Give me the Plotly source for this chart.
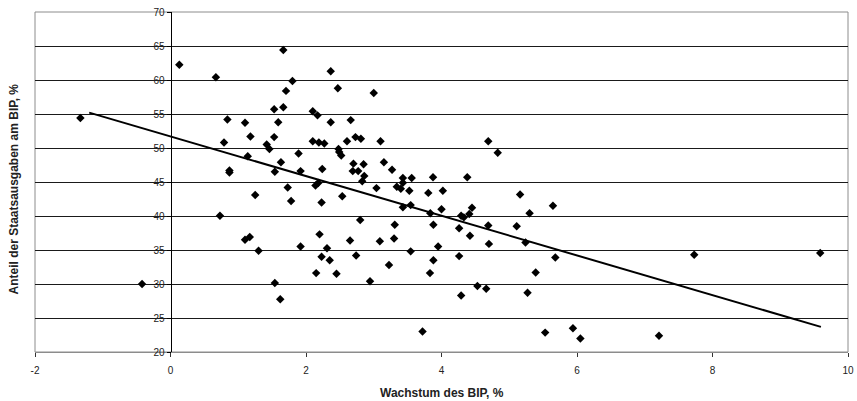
import plotly.graph_objects as go

# Growth of GDP (%) and share of government spending in GDP (%)
growth = [
    -1.33, 0.13, 0.67, 0.84, 1.10, 1.18, 0.79, 1.14, 0.87, 0.87,
    1.25, 0.73, 1.10, 1.17, 1.30, -0.42, 1.665, 1.80, 1.705, 1.53,
    1.665, 1.59, 1.53, 1.42, 1.46, 1.89, 1.63, 1.54, 1.92, 2.365,
    2.47, 3.00, 2.10, 2.17, 2.365, 2.66, 2.10, 2.19, 2.27, 2.605,
    2.73, 2.81, 3.10, 2.48, 2.49, 2.52, 2.24, 2.70, 2.69, 2.77,
    2.85, 2.86, 3.15, 3.27, 3.43, 3.56, 3.875, 1.73, 1.78, 2.14,
    2.18, 2.23, 2.535, 2.83, 3.04, 3.43, 3.34, 3.40, 3.525, 3.805,
    4.02, 3.43, 3.545, 3.835, 4.00, 2.80, 3.31, 3.88, 2.20, 2.65,
    3.09, 3.30, 1.92, 2.31, 2.23, 2.35, 2.74, 3.545, 3.95, 3.88,
    3.225, 3.83, 2.15, 2.45, 2.945, 1.54, 1.62, 3.72, 4.69, 4.83,
    4.38, 5.16, 5.645, 5.30, 4.29, 4.33, 4.41, 4.45, 4.26, 4.69,
    5.11, 4.42, 4.70, 5.24, 4.26, 5.68, 5.39, 4.53, 4.66, 4.29,
    5.27, 5.53, 5.94, 6.05, 7.73, 9.59, 7.21,
]
spending = [
    54.4, 62.25, 60.4, 54.2, 53.7, 51.7, 50.8, 48.8, 46.7, 46.4,
    43.1, 40.05, 36.5, 36.9, 34.9, 30.0, 64.4, 59.85, 58.4, 55.7,
    56.0, 53.8, 51.6, 50.5, 49.85, 49.2, 47.9, 46.5, 46.6, 61.3,
    58.8, 58.1, 55.4, 54.8, 53.8, 54.1, 51.0, 50.8, 50.65, 51.0,
    51.6, 51.35, 51.0, 49.85, 49.4, 48.9, 46.9, 47.7, 46.6, 46.6,
    47.6, 45.9, 47.9, 46.8, 45.6, 45.6, 45.7, 44.2, 42.2, 44.5,
    44.85, 42.0, 42.9, 45.1, 44.1, 44.9, 44.3, 44.0, 43.7, 43.4,
    43.7, 41.3, 41.6, 40.4, 41.0, 39.4, 38.7, 38.7, 37.3, 36.4,
    36.3, 36.7, 35.5, 35.25, 34.0, 33.5, 34.2, 34.8, 35.5, 33.5,
    32.8, 31.6, 31.6, 31.5, 30.4, 30.15, 27.75, 23.0, 51.0, 49.3,
    45.7, 43.15, 41.5, 40.4, 40.05, 39.8, 40.3, 41.2, 38.2, 38.6,
    38.5, 37.1, 35.9, 36.1, 34.1, 33.9, 31.7, 29.7, 29.3, 28.3,
    28.7, 22.85, 23.5, 22.0, 34.3, 34.56, 22.4,
]

# Linear trend line end points
trend_x = [-1.2, 9.6]
trend_y = [55.2, 23.7]

x_ticks = [-2, 0, 2, 4, 6, 8, 10]
y_ticks = [20, 25, 30, 35, 40, 45, 50, 55, 60, 65, 70]

FONT = "Liberation Sans, Arial, sans-serif"

fig = go.Figure()
fig.add_trace(go.Scatter(
    x=trend_x, y=trend_y, mode="lines",
    line=dict(color="black", width=2), showlegend=False, hoverinfo="skip",
))
fig.add_trace(go.Scatter(
    x=growth, y=spending, mode="markers",
    marker=dict(symbol="diamond", size=6.5, color="black"),
    showlegend=False,
))

# plot-area border
fig.add_shape(type="rect", xref="paper", yref="paper", x0=0, y0=0, x1=1, y1=1,
              line=dict(color="#8c8c8c", width=1), layer="below")

fig.update_layout(
    width=857, height=401,
    margin=dict(l=35, r=9, t=12, b=49, autoexpand=False),
    paper_bgcolor="white", plot_bgcolor="white",
    font=dict(family=FONT, size=10, color="#222"),
    xaxis=dict(
        range=[-2, 10], tickvals=x_ticks, ticktext=[str(v) for v in x_ticks],
        showgrid=False, zeroline=False, automargin=False,
        showline=True, linecolor="#8c8c8c", linewidth=1,
        ticks="outside", ticklen=4, tickcolor="#333",
        ticklabelstandoff=5,
        tickfont=dict(size=10, family=FONT, color="#222"),
    ),
    yaxis=dict(
        range=[20, 70], tickvals=y_ticks, ticktext=[str(v) for v in y_ticks],
        showgrid=True, gridcolor="#1a1a1a", gridwidth=1, zeroline=False,
        anchor="free", position=1/6, automargin=False,
        showline=True, linecolor="black", linewidth=1,
        ticks="outside", ticklen=4, tickcolor="black",
        tickfont=dict(size=10, family=FONT, color="#222"),
    ),
    annotations=[
        dict(
            text="<b>Anteil der Staatsausgaben am BIP, %</b>",
            xref="paper", yref="paper", x=-0.0258, y=0.478,
            textangle=-90, showarrow=False, xanchor="center", yanchor="middle",
            font=dict(size=12, family=FONT, color="#222"),
        ),
        dict(
            text="<b>Wachstum des BIP, %</b>",
            xref="paper", yref="paper", x=0.5, y=-0.12,
            showarrow=False, xanchor="center", yanchor="middle",
            font=dict(size=12, family=FONT, color="#222"),
        ),
    ],
)

# remove the default 8px page margin so the figure fills the window exactly
fig.write_html(
    "out.html",
    config={"displayModeBar": False},
    post_script="document.body.style.margin='0';document.body.style.overflow='hidden';",
)
